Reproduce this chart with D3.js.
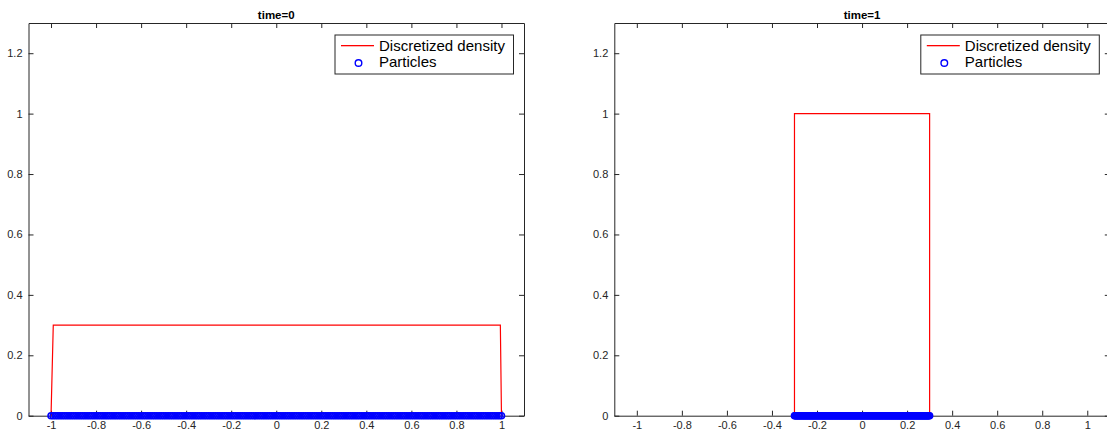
<!DOCTYPE html>
<html><head><meta charset="utf-8">
<script src="https://cdn.jsdelivr.net/npm/d3@7"></script>
<style>body{margin:0;background:#fff}svg{display:block}text{font-family:"Liberation Sans",Arial,sans-serif}</style>
</head><body><svg id="c" width="1107" height="430"></svg>
<script>
const titles = ["time=0", "time=1"];
const xTicks = [-1,-0.8,-0.6,-0.4,-0.2,0,0.2,0.4,0.6,0.8,1];
const yTicks = [0,0.2,0.4,0.6,0.8,1,1.2];
const legendLabels = ["Discretized density", "Particles"];
const densityX0 = [-1, -0.99, 0.995, 1];
const densityY0 = [0, 0.3, 0.3, 0];
const densityX1 = [-0.3, -0.3, 0.3, 0.3];
const densityY1 = [0, 1, 1, 0];
const particles0 = [-1,-0.99,-0.98,-0.97,-0.96,-0.95,-0.94,-0.93,-0.92,-0.91,-0.9,-0.89,-0.88,-0.87,-0.86,-0.85,-0.84,-0.83,-0.82,-0.81,-0.8,-0.79,-0.78,-0.77,-0.76,-0.75,-0.74,-0.73,-0.72,-0.71,-0.7,-0.69,-0.68,-0.67,-0.66,-0.65,-0.64,-0.63,-0.62,-0.61,-0.6,-0.59,-0.58,-0.57,-0.56,-0.55,-0.54,-0.53,-0.52,-0.51,-0.5,-0.49,-0.48,-0.47,-0.46,-0.45,-0.44,-0.43,-0.42,-0.41,-0.4,-0.39,-0.38,-0.37,-0.36,-0.35,-0.34,-0.33,-0.32,-0.31,-0.3,-0.29,-0.28,-0.27,-0.26,-0.25,-0.24,-0.23,-0.22,-0.21,-0.2,-0.19,-0.18,-0.17,-0.16,-0.15,-0.14,-0.13,-0.12,-0.11,-0.1,-0.09,-0.08,-0.07,-0.06,-0.05,-0.04,-0.03,-0.02,-0.01,0,
0.01,0.02,0.03,0.04,0.05,0.06,0.07,0.08,0.09,0.1,0.11,0.12,0.13,0.14,0.15,0.16,0.17,0.18,0.19,0.2,0.21,0.22,0.23,0.24,0.25,0.26,0.27,0.28,0.29,0.3,0.31,0.32,0.33,0.34,0.35,0.36,0.37,0.38,0.39,0.4,0.41,0.42,0.43,0.44,0.45,0.46,0.47,0.48,0.49,0.5,0.51,0.52,0.53,0.54,0.55,0.56,0.57,0.58,0.59,0.6,0.61,0.62,0.63,0.64,0.65,0.66,0.67,0.68,0.69,0.7,0.71,0.72,0.73,0.74,0.75,0.76,0.77,0.78,0.79,0.8,0.81,0.82,0.83,0.84,0.85,0.86,0.87,0.88,0.89,0.9,0.91,0.92,0.93,0.94,0.95,0.96,0.97,0.98,0.99,1];
const particles1 = [-0.3,-0.297,-0.294,-0.291,-0.288,-0.285,-0.282,-0.279,-0.276,-0.273,-0.27,-0.267,-0.264,-0.261,-0.258,-0.255,-0.252,-0.249,-0.246,-0.243,-0.24,-0.237,-0.234,-0.231,-0.228,-0.225,-0.222,-0.219,-0.216,-0.213,-0.21,-0.207,-0.204,-0.201,-0.198,-0.195,-0.192,-0.189,-0.186,-0.183,-0.18,-0.177,-0.174,-0.171,-0.168,-0.165,-0.162,-0.159,-0.156,-0.153,-0.15,-0.147,-0.144,-0.141,-0.138,-0.135,-0.132,-0.129,-0.126,-0.123,-0.12,-0.117,-0.114,-0.111,-0.108,-0.105,-0.102,-0.099,-0.096,-0.093,-0.09,-0.087,-0.084,-0.081,-0.078,-0.075,-0.072,-0.069,-0.066,-0.063,-0.06,-0.057,-0.054,-0.051,-0.048,-0.045,-0.042,-0.039,-0.036,-0.033,-0.03,-0.027,-0.024,-0.021,-0.018,-0.015,-0.012,-0.009,-0.006,-0.003,0,
0.003,0.006,0.009,0.012,0.015,0.018,0.021,0.024,0.027,0.03,0.033,0.036,0.039,0.042,0.045,0.048,0.051,0.054,0.057,0.06,0.063,0.066,0.069,0.072,0.075,0.078,0.081,0.084,0.087,0.09,0.093,0.096,0.099,0.102,0.105,0.108,0.111,0.114,0.117,0.12,0.123,0.126,0.129,0.132,0.135,0.138,0.141,0.144,0.147,0.15,0.153,0.156,0.159,0.162,0.165,0.168,0.171,0.174,0.177,0.18,0.183,0.186,0.189,0.192,0.195,0.198,0.201,0.204,0.207,0.21,0.213,0.216,0.219,0.222,0.225,0.228,0.231,0.234,0.237,0.24,0.243,0.246,0.249,0.252,0.255,0.258,0.261,0.264,0.267,0.27,0.273,0.276,0.279,0.282,0.285,0.288,0.291,0.294,0.297,0.3];

const svg = d3.select("#c");
const panels = [
  {left: 28.5, title: titles[0], dx: densityX0, dy: densityY0, p: particles0},
  {left: 614.3, title: titles[1], dx: densityX1, dy: densityY1, p: particles1}
];
const plotW = 495.5, plotTop = 23, plotBottom = 415.7;
const axisCol = "#262626";
const redCol = "#ff0000", blueCol = "#0000ff";

panels.forEach(pn => {
  const x = d3.scaleLinear().domain([-1.1, 1.1]).range([pn.left, pn.left + plotW]);
  const y = d3.scaleLinear().domain([0, 1.3]).range([plotBottom, plotTop]);
  const g = svg.append("g");

  const fmt = d => String(d);
  const ax = g.append("g").attr("transform", `translate(0,${plotBottom})`)
    .call(d3.axisBottom(x).tickValues(xTicks).tickFormat(fmt).tickSizeInner(-5).tickSizeOuter(0).tickPadding(5));
  const axT = g.append("g").attr("transform", `translate(0,${plotTop})`)
    .call(d3.axisTop(x).tickValues(xTicks).tickFormat("").tickSizeInner(-5).tickSizeOuter(0));
  const ay = g.append("g").attr("transform", `translate(${pn.left},0)`)
    .call(d3.axisLeft(y).tickValues(yTicks).tickFormat(fmt).tickSizeInner(-5).tickSizeOuter(0).tickPadding(6));
  const ayR = g.append("g").attr("transform", `translate(${pn.left + plotW},0)`)
    .call(d3.axisRight(y).tickValues(yTicks).tickFormat("").tickSizeInner(-5).tickSizeOuter(0));
  [ax, axT, ay, ayR].forEach(a => {
    a.select(".domain").attr("stroke", axisCol).attr("stroke-width", 1);
    a.selectAll(".tick line").attr("stroke", axisCol).attr("stroke-width", 1);
    a.selectAll(".tick text").attr("fill", axisCol).attr("font-size", 11)
      .attr("font-family", "'Liberation Sans', Arial, sans-serif");
  });
  ax.selectAll(".tick text").attr("dy", "0.8em");

  const line = d3.line().x((d, i) => x(pn.dx[i])).y((d, i) => y(pn.dy[i]));
  g.append("path").datum(pn.dx).attr("d", line).attr("fill", "none")
    .attr("stroke", redCol).attr("stroke-width", 1.2);

  g.append("g").selectAll("circle").data(pn.p).join("circle")
    .attr("cx", d => x(d)).attr("cy", y(0)).attr("r", 3)
    .attr("fill", "none").attr("stroke", blueCol).attr("stroke-width", 1.6);

  g.append("text").attr("x", pn.left + plotW / 2).attr("y", 19).attr("text-anchor", "middle")
    .attr("font-weight", "bold").attr("font-size", 11.5).attr("fill", "#000").text(pn.title);

  const lx = pn.left + plotW - 10.5 - 178.5, ly = 35;
  const lg = g.append("g");
  lg.append("rect").attr("x", lx).attr("y", ly).attr("width", 178.5).attr("height", 39)
    .attr("fill", "#fff").attr("stroke", axisCol).attr("stroke-width", 1);
  lg.append("rect").attr("x", lx + 6).attr("y", ly + 10).attr("width", 33).attr("height", 1.3)
    .attr("fill", redCol).attr("stroke", "none");
  lg.append("circle").attr("cx", lx + 23.5).attr("cy", ly + 28).attr("r", 3.3)
    .attr("fill", "none").attr("stroke", blueCol).attr("stroke-width", 1.4);
  lg.append("text").attr("x", lx + 44).attr("y", ly + 15.5).attr("font-size", 15).attr("fill", "#000").text(legendLabels[0]);
  lg.append("text").attr("x", lx + 44).attr("y", ly + 32).attr("font-size", 15).attr("fill", "#000").text(legendLabels[1]);
});
</script></body></html>
